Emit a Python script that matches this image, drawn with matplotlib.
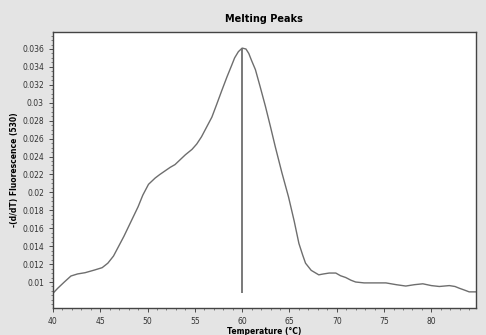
import matplotlib
matplotlib.use("Agg")
import matplotlib.pyplot as plt
from matplotlib.ticker import MultipleLocator

# melting curve
temps = [40.0, 40.5, 41.2, 41.9, 42.6, 43.4, 44.4, 45.2, 45.8, 46.4, 46.9, 47.5,
         48.0, 48.5, 49.0, 49.5, 50.1, 50.4, 50.8, 51.3, 51.85, 52.4, 52.9, 53.4,
         54.0, 54.7, 55.2, 55.7, 56.2, 56.8, 57.3, 57.86, 58.4, 58.9, 59.2, 59.6,
         60.0, 60.4, 60.7, 61.0, 61.4, 61.9, 62.46, 63.0, 63.5, 64.2, 64.9, 65.5,
         66.0, 66.4, 66.7, 67.3, 68.1, 68.6, 69.2, 69.9, 70.4, 70.95, 71.5, 72.0,
         72.9, 73.8, 75.2, 76.3, 77.3, 78.2, 79.1, 80.0, 80.85, 81.9, 82.5, 82.97,
         83.5, 84.0, 84.7]
deriv = [0.00874, 0.0093, 0.0100, 0.01067, 0.0109, 0.01104, 0.01134, 0.0116, 0.0121,
         0.0129, 0.0139, 0.0151, 0.0162, 0.0173, 0.0184, 0.0197, 0.0209, 0.0212,
         0.0216, 0.0220, 0.0224, 0.0228, 0.0231, 0.0236, 0.0242, 0.0248, 0.0254,
         0.0262, 0.0272, 0.0284, 0.0298, 0.0314, 0.0329, 0.0342, 0.0350, 0.0357,
         0.0361, 0.0360, 0.0355, 0.0347, 0.0337, 0.0318, 0.0296, 0.0273, 0.0251,
         0.0222, 0.0195, 0.0168, 0.0143, 0.0130, 0.0121, 0.0113, 0.0108, 0.0109,
         0.0110, 0.0110, 0.0107, 0.0105, 0.0102, 0.0100, 0.0099, 0.0099, 0.0099,
         0.0097, 0.00955, 0.0097, 0.0098, 0.0096, 0.0095, 0.0096, 0.0095, 0.0093,
         0.0091, 0.0089, 0.0089]

peak_temp = 60.0
peak_low = 0.00874
peak_high = 0.0361

xticks = [40, 45, 50, 55, 60, 65, 70, 75, 80]
yticks = [0.01, 0.012, 0.014, 0.016, 0.018, 0.02, 0.022, 0.024, 0.026, 0.028, 0.03,
          0.032, 0.034, 0.036]
ylabels = ["0.01", "0.012", "0.014", "0.016", "0.018", "0.02", "0.022", "0.024",
           "0.026", "0.028", "0.03", "0.032", "0.034", "0.036"]

fig = plt.figure(figsize=(4.86, 3.35), dpi=100, facecolor="#e4e4e4")
ax = fig.add_axes([0.109, 0.0806, 0.870, 0.824])

ax.plot(temps, deriv, color="#6e6e6e", lw=1.0)
ax.vlines(peak_temp, peak_low, peak_high, color="#6e6e6e", lw=1.3)

ax.set_xlim(40, 84.7)
ax.set_ylim(0.0071, 0.0379)
ax.set_xticks(xticks)
ax.set_yticks(yticks)
ax.set_yticklabels(ylabels)
ax.xaxis.set_minor_locator(MultipleLocator(1))
ax.yaxis.set_minor_locator(MultipleLocator(0.0005))
ax.tick_params(which="major", labelsize=5.5, length=3, width=0.6, colors="#333333")
ax.tick_params(which="minor", length=1.5, width=0.5, colors="#555555")

for s in ax.spines.values():
    s.set_color("#444444")
    s.set_linewidth(1.0)

ax.set_title("Melting Peaks", fontsize=7, fontweight="bold", pad=7)
ax.set_xlabel("Temperature (°C)", fontsize=5.5, fontweight="bold", labelpad=1)
ax.set_ylabel("-(d/dT) Fluorescence (530)", fontsize=5.5, fontweight="bold", labelpad=2)

fig.savefig("out.png", dpi=100, facecolor=fig.get_facecolor())
